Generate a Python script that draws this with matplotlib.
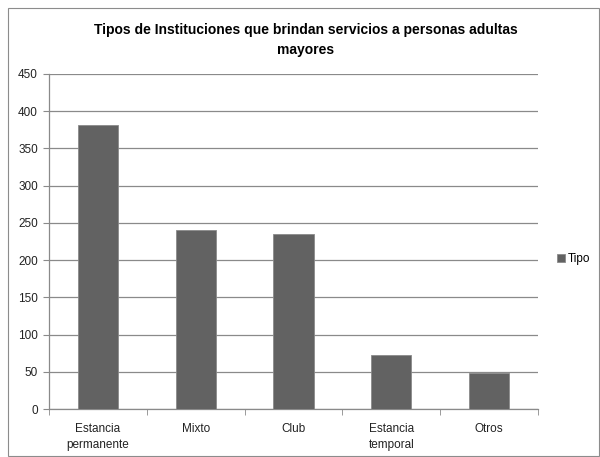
import matplotlib

matplotlib.use("Agg")
import matplotlib.pyplot as plt
from matplotlib.patches import Rectangle

# data
categories = ["Estancia\npermanente", "Mixto", "Club", "Estancia\ntemporal", "Otros"]
values = [382, 240, 235, 73, 49]
series_name = "Tipo"
y_ticks = [0, 50, 100, 150, 200, 250, 300, 350, 400, 450]

BAR = "#626262"
GRID = "#8a8a8a"

plt.rcParams["font.family"] = ["Liberation Sans", "DejaVu Sans"]

W, H = 600, 457
fig = plt.figure(figsize=(W / 100, H / 100), dpi=100)

# outer chart frame
fig.patches.append(Rectangle((8 / W, 1 / H), 1 - 9 / W, 1 - 9 / H, transform=fig.transFigure,
                             fill=False, edgecolor="#8c8c8c", lw=0.8))

ax = fig.add_axes([49 / W, 1 - 409 / H, (538 - 49) / W, (409 - 74) / H])
xs = list(range(len(values)))
ax.bar(xs, values, width=0.41, color=BAR, edgecolor="#8a8a8a", lw=0.6, zorder=3, label=series_name)

ax.set_xlim(-0.5, len(values) - 0.5)
ax.set_ylim(0, 450)
ax.set_yticks(y_ticks)
ax.yaxis.grid(True, color=GRID, lw=0.9, zorder=0)
ax.set_axisbelow(True)

for s in ("top", "right"):
    ax.spines[s].set_visible(False)
for s in ("left", "bottom"):
    ax.spines[s].set_color(GRID)
    ax.spines[s].set_linewidth(0.9)

ax.tick_params(axis="y", length=4, color=GRID, labelsize=8.5, pad=4, labelcolor="#222222")
ax.set_xticks(xs)
ax.set_xticklabels(categories, fontsize=8.5, color="#222222", linespacing=1.45)
ax.tick_params(axis="x", length=0, pad=10)
# category separator ticks between bars
ax.set_xticks([i - 0.5 for i in range(len(values) + 1)], minor=True)
ax.tick_params(axis="x", which="minor", length=4, color=GRID)

fig.text(0.5 * (49 + 538) / W + 0.02, 1 - 30 / H, "Tipos de Instituciones que brindan servicios a personas adultas",
         ha="center", va="center", fontsize=10, fontweight="bold")
fig.text(0.5 * (49 + 538) / W + 0.02, 1 - 50 / H, "mayores",
         ha="center", va="center", fontsize=10, fontweight="bold")

fig.legend(loc="center left", bbox_to_anchor=(557 / W, 1 - 259 / H), frameon=False, fontsize=8.5,
           handlelength=0.7, handleheight=0.7, handletextpad=0.2, borderpad=0, borderaxespad=0)

fig.savefig("out.png", dpi=100)
